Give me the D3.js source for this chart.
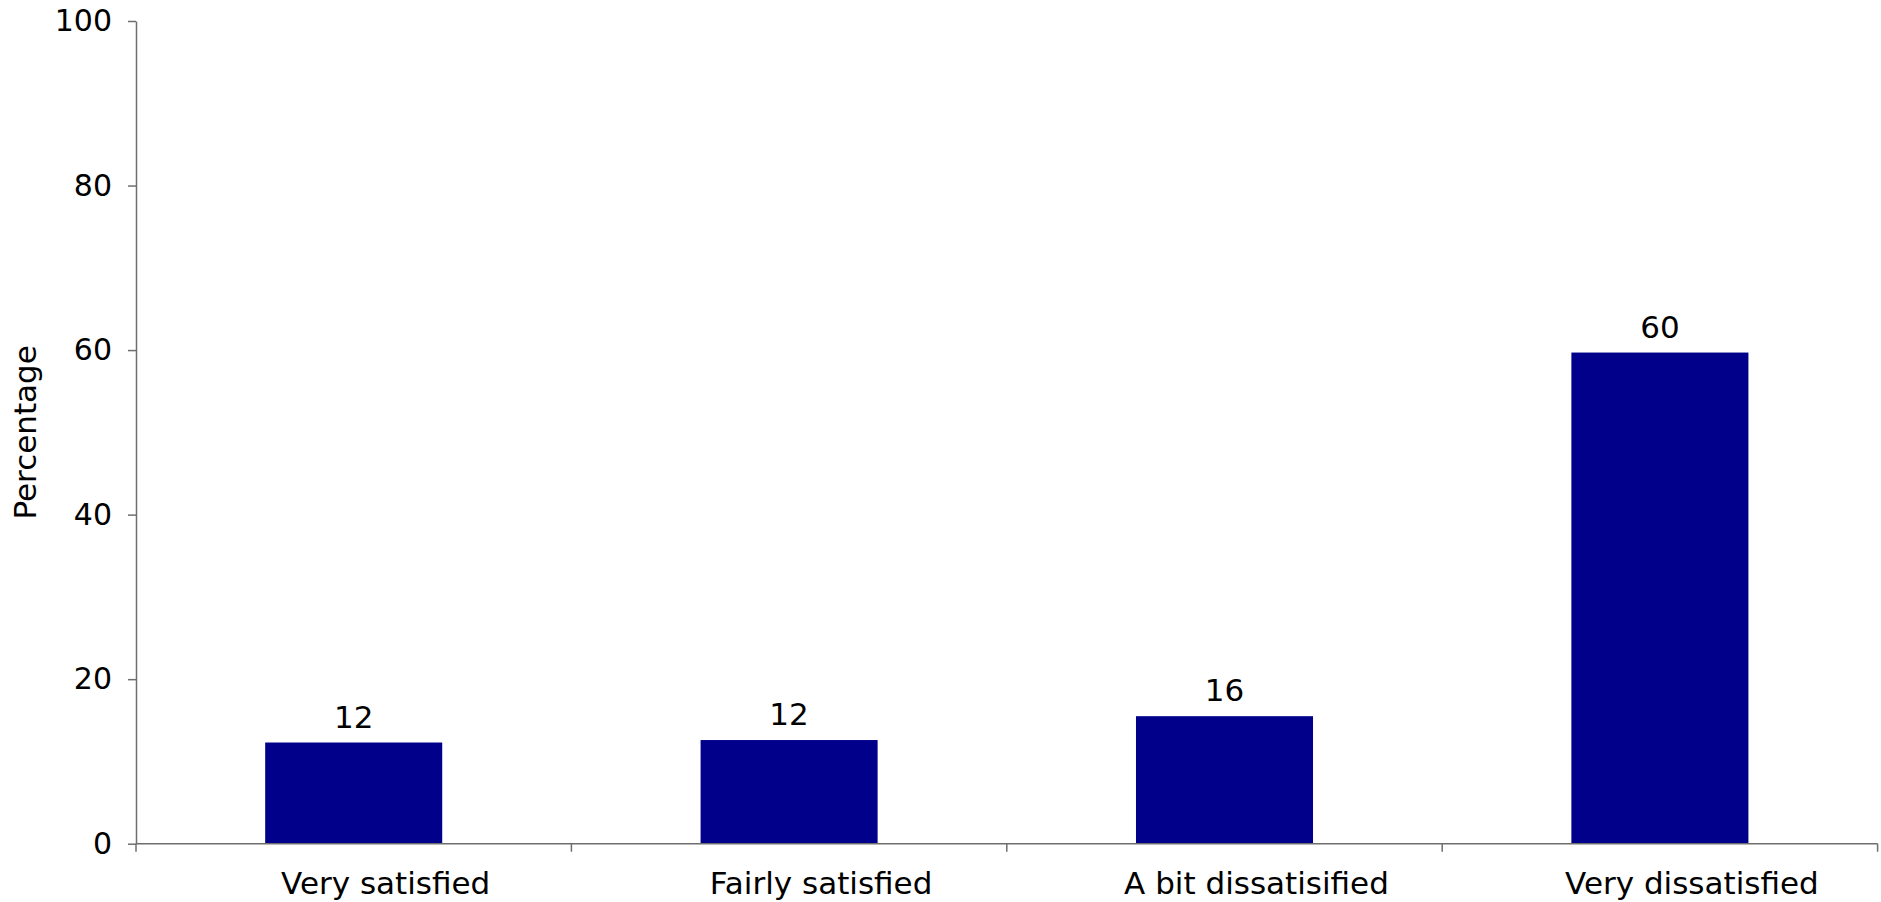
<!DOCTYPE html>
<html>
<head>
<meta charset="utf-8">
<script src="https://cdn.jsdelivr.net/npm/d3@7/dist/d3.min.js"></script>
<style>
  html, body { margin: 0; padding: 0; background: #ffffff; }
  svg { display: block; }
  text { font-family: "DejaVu Sans", Verdana, sans-serif; fill: #000; }
</style>
</head>
<body>
<svg id="chart" width="1881" height="902"></svg>
<script>
const categories = ["Very satisfied", "Fairly satisfied", "A bit dissatisified", "Very dissatisfied"];
const values = [12.3, 12.6, 15.5, 59.7];
const valueLabels = ["12", "12", "16", "60"];
const yTicks = [0, 20, 40, 60, 80, 100];
const yTitle = "Percentage";

(function () {
const svg = d3.select("#chart");
const mLeft = 136, mRight = 1877.6, mTop = 21, mBottom = 843.7;
const axisColor = "#6e6e6e";
const barColor = "#00008a";
const fontSize = 31;

const x = d3.scaleBand().domain(categories).range([mLeft, mRight]).paddingInner(0).paddingOuter(0);
const y = d3.scaleLinear().domain([0, 100]).range([mBottom, mTop]);
const barW = x.bandwidth() * 0.4066;

// bars
svg.append("g").selectAll("rect")
  .data(categories)
  .join("rect")
  .attr("x", (d) => x(d) + (x.bandwidth() - barW) / 2)
  .attr("y", (d, i) => y(values[i]))
  .attr("width", barW)
  .attr("height", (d, i) => y(0) - y(values[i]))
  .attr("fill", barColor);

// value labels
svg.append("g").selectAll("text")
  .data(categories)
  .join("text")
  .attr("x", (d) => x(d) + x.bandwidth() / 2)
  .attr("y", (d, i) => y(values[i]) - 15)
  .attr("text-anchor", "middle")
  .attr("font-size", fontSize)
  .text((d, i) => valueLabels[i]);

// y axis
const yAxis = svg.append("g")
  .attr("transform", `translate(${mLeft},0)`)
  .call(d3.axisLeft(y).tickValues(yTicks).tickSize(8).tickSizeOuter(0).tickPadding(16));
yAxis.select(".domain").attr("stroke", axisColor).attr("stroke-width", 1.5);
yAxis.selectAll(".tick line").attr("stroke", axisColor).attr("stroke-width", 1.5);
yAxis.selectAll(".tick text")
  .attr("font-size", 30)
  .attr("font-family", "DejaVu Sans, Verdana, sans-serif")
  .attr("fill", "#000");

// x axis
const xAxis = svg.append("g").attr("transform", `translate(0,${mBottom})`);
xAxis.append("line")
  .attr("x1", mLeft).attr("x2", mRight)
  .attr("y1", 0).attr("y2", 0)
  .attr("stroke", axisColor).attr("stroke-width", 1.5);
const boundaries = categories.map((d) => x(d)).concat([x(categories[categories.length - 1]) + x.bandwidth()]);
xAxis.selectAll("line.bt")
  .data(boundaries)
  .join("line")
  .attr("class", "bt")
  .attr("x1", (d) => d).attr("x2", (d) => d)
  .attr("y1", 0).attr("y2", 8)
  .attr("stroke", axisColor).attr("stroke-width", 1.5);
xAxis.selectAll("text")
  .data(categories)
  .join("text")
  .attr("x", (d) => x(d) + x.bandwidth() / 2 + 32)
  .attr("y", 50)
  .attr("text-anchor", "middle")
  .attr("font-size", fontSize)
  .text((d) => d);

// y title
svg.append("text")
  .attr("transform", `translate(36,${(mTop + mBottom) / 2}) rotate(-90)`)
  .attr("text-anchor", "middle")
  .attr("font-size", fontSize)
  .text(yTitle);
})();
</script>
</body>
</html>
